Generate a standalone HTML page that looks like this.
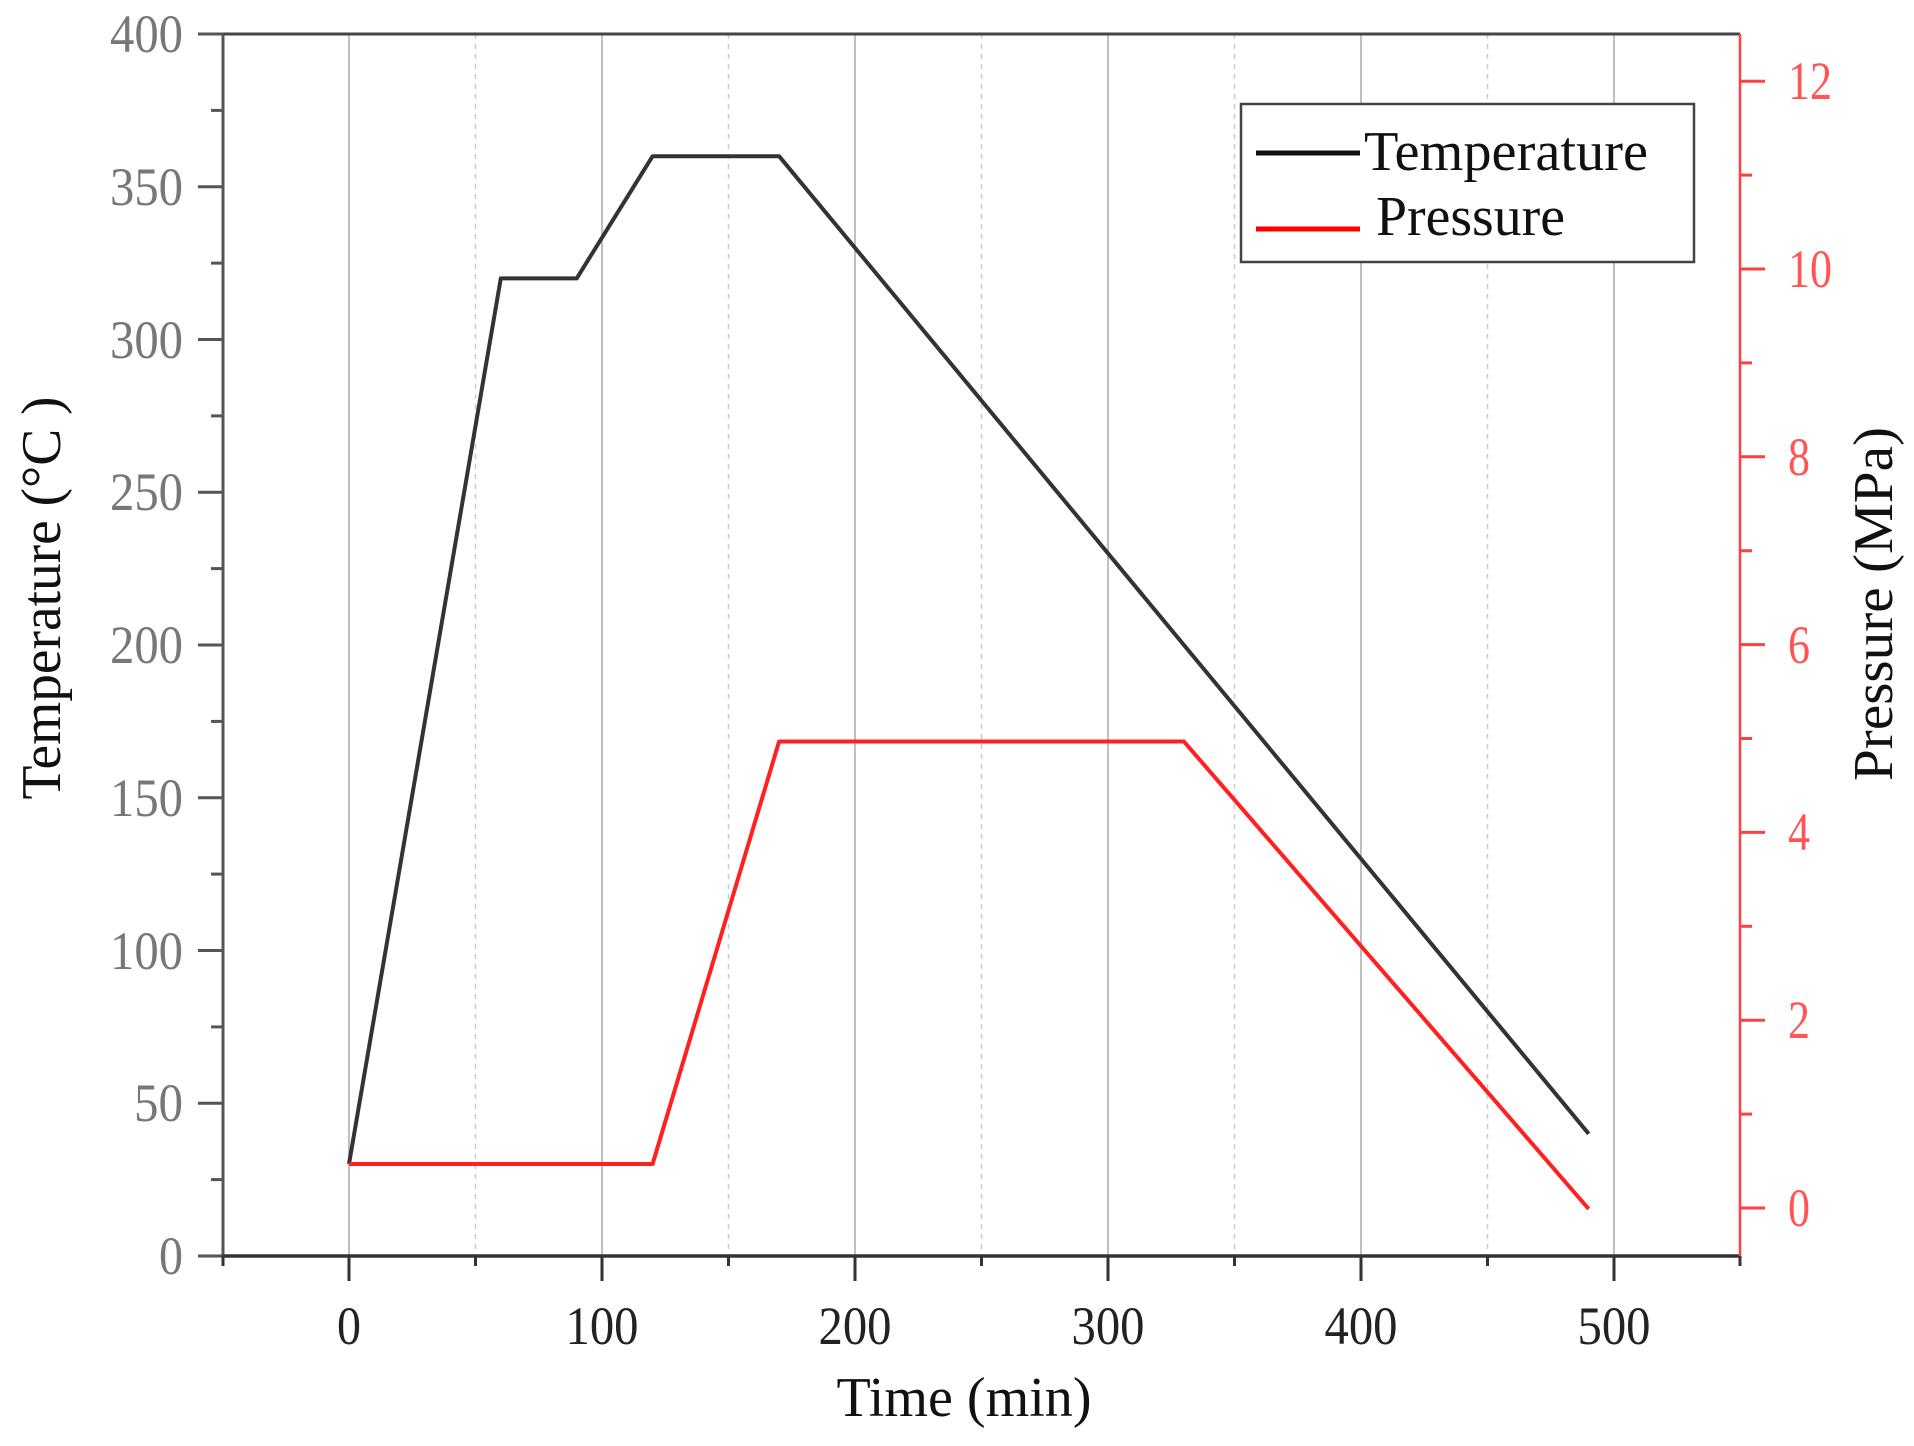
<!DOCTYPE html>
<html><head><meta charset="utf-8"><style>html,body{margin:0;padding:0;background:#fff}svg{display:block}</style></head>
<body>
<svg width="1914" height="1446" viewBox="0 0 1914 1446" xmlns="http://www.w3.org/2000/svg" font-family="Liberation Serif, serif">
<g stroke="#aaa" stroke-width="1.5">
<line x1="349" y1="34" x2="349" y2="1256"/><line x1="602" y1="34" x2="602" y2="1256"/><line x1="855" y1="34" x2="855" y2="1256"/><line x1="1108" y1="34" x2="1108" y2="1256"/><line x1="1361" y1="34" x2="1361" y2="1256"/><line x1="1614" y1="34" x2="1614" y2="1256"/>
</g>
<g stroke="#ccc" stroke-width="1.5" stroke-dasharray="5,5">
<line x1="475.5" y1="34" x2="475.5" y2="1256"/><line x1="728.5" y1="34" x2="728.5" y2="1256"/><line x1="981.5" y1="34" x2="981.5" y2="1256"/><line x1="1234.5" y1="34" x2="1234.5" y2="1256"/><line x1="1487.5" y1="34" x2="1487.5" y2="1256"/>
</g>
<line x1="223" y1="34" x2="1740" y2="34" stroke="#444" stroke-width="3"/>
<line x1="223" y1="34" x2="223" y2="1256" stroke="#555" stroke-width="3"/>
<line x1="221" y1="1256" x2="1740" y2="1256" stroke="#333" stroke-width="3.5"/>
<line x1="1740" y1="34" x2="1740" y2="1256" stroke="#ff4040" stroke-width="2.5"/>
<g stroke="#555" stroke-width="3">
<line x1="198" y1="1256" x2="223" y2="1256"/><line x1="198" y1="1103.25" x2="223" y2="1103.25"/><line x1="198" y1="950.5" x2="223" y2="950.5"/><line x1="198" y1="797.75" x2="223" y2="797.75"/><line x1="198" y1="645" x2="223" y2="645"/><line x1="198" y1="492.25" x2="223" y2="492.25"/><line x1="198" y1="339.5" x2="223" y2="339.5"/><line x1="198" y1="186.75" x2="223" y2="186.75"/><line x1="198" y1="34" x2="223" y2="34"/>
<line x1="211" y1="1179.6" x2="223" y2="1179.6"/><line x1="211" y1="1026.9" x2="223" y2="1026.9"/><line x1="211" y1="874.1" x2="223" y2="874.1"/><line x1="211" y1="721.4" x2="223" y2="721.4"/><line x1="211" y1="568.6" x2="223" y2="568.6"/><line x1="211" y1="415.9" x2="223" y2="415.9"/><line x1="211" y1="263.1" x2="223" y2="263.1"/><line x1="211" y1="110.4" x2="223" y2="110.4"/>
</g>
<g font-size="54" fill="#777" text-anchor="end" lengthAdjust="spacingAndGlyphs">
<text x="183" y="1274" textLength="24" lengthAdjust="spacingAndGlyphs">0</text>
<text x="183" y="1121" textLength="49" lengthAdjust="spacingAndGlyphs">50</text>
<text x="183" y="969" textLength="73" lengthAdjust="spacingAndGlyphs">100</text>
<text x="183" y="816" textLength="73" lengthAdjust="spacingAndGlyphs">150</text>
<text x="183" y="663" textLength="73" lengthAdjust="spacingAndGlyphs">200</text>
<text x="183" y="510" textLength="73" lengthAdjust="spacingAndGlyphs">250</text>
<text x="183" y="358" textLength="73" lengthAdjust="spacingAndGlyphs">300</text>
<text x="183" y="205" textLength="73" lengthAdjust="spacingAndGlyphs">350</text>
<text x="183" y="52" textLength="73" lengthAdjust="spacingAndGlyphs">400</text>
</g>
<g stroke="#333" stroke-width="3">
<line x1="349" y1="1256" x2="349" y2="1281"/><line x1="602" y1="1256" x2="602" y2="1281"/><line x1="855" y1="1256" x2="855" y2="1281"/><line x1="1108" y1="1256" x2="1108" y2="1281"/><line x1="1361" y1="1256" x2="1361" y2="1281"/><line x1="1614" y1="1256" x2="1614" y2="1281"/>
<line x1="223" y1="1256" x2="223" y2="1266"/><line x1="475.5" y1="1256" x2="475.5" y2="1266"/><line x1="728.5" y1="1256" x2="728.5" y2="1266"/><line x1="981.5" y1="1256" x2="981.5" y2="1266"/><line x1="1234.5" y1="1256" x2="1234.5" y2="1266"/><line x1="1487.5" y1="1256" x2="1487.5" y2="1266"/><line x1="1740" y1="1256" x2="1740" y2="1266"/>
</g>
<g font-size="54" fill="#222" text-anchor="middle">
<text x="349" y="1344" textLength="24" lengthAdjust="spacingAndGlyphs">0</text>
<text x="602" y="1344" textLength="73" lengthAdjust="spacingAndGlyphs">100</text>
<text x="855" y="1344" textLength="73" lengthAdjust="spacingAndGlyphs">200</text>
<text x="1108" y="1344" textLength="73" lengthAdjust="spacingAndGlyphs">300</text>
<text x="1361" y="1344" textLength="73" lengthAdjust="spacingAndGlyphs">400</text>
<text x="1614" y="1344" textLength="73" lengthAdjust="spacingAndGlyphs">500</text>
</g>
<text x="964" y="1416" font-size="56" fill="#111" text-anchor="middle" textLength="255" lengthAdjust="spacingAndGlyphs">Time (min)</text>
<text transform="translate(60,598) rotate(-90)" font-size="56" fill="#111" text-anchor="middle" textLength="403" lengthAdjust="spacingAndGlyphs">Temperature (°C )</text>
<text transform="translate(1892,604) rotate(-90)" font-size="56" fill="#111" text-anchor="middle" textLength="354" lengthAdjust="spacingAndGlyphs">Pressure (MPa)</text>
<g stroke="#ff4040" stroke-width="3">
<line x1="1740" y1="1208" x2="1765" y2="1208"/><line x1="1740" y1="1020.2" x2="1765" y2="1020.2"/><line x1="1740" y1="832.4" x2="1765" y2="832.4"/><line x1="1740" y1="644.6" x2="1765" y2="644.6"/><line x1="1740" y1="456.8" x2="1765" y2="456.8"/><line x1="1740" y1="269" x2="1765" y2="269"/><line x1="1740" y1="81.2" x2="1765" y2="81.2"/>
<line x1="1740" y1="1114.1" x2="1752" y2="1114.1"/><line x1="1740" y1="926.3" x2="1752" y2="926.3"/><line x1="1740" y1="738.5" x2="1752" y2="738.5"/><line x1="1740" y1="550.7" x2="1752" y2="550.7"/><line x1="1740" y1="362.9" x2="1752" y2="362.9"/><line x1="1740" y1="175.1" x2="1752" y2="175.1"/>
</g>
<g font-size="54" fill="#ff5555">
<text x="1788" y="1226" textLength="22" lengthAdjust="spacingAndGlyphs">0</text>
<text x="1788" y="1038" textLength="22" lengthAdjust="spacingAndGlyphs">2</text>
<text x="1788" y="850" textLength="22" lengthAdjust="spacingAndGlyphs">4</text>
<text x="1788" y="663" textLength="22" lengthAdjust="spacingAndGlyphs">6</text>
<text x="1788" y="475" textLength="22" lengthAdjust="spacingAndGlyphs">8</text>
<text x="1788" y="287" textLength="44" lengthAdjust="spacingAndGlyphs">10</text>
<text x="1788" y="99" textLength="44" lengthAdjust="spacingAndGlyphs">12</text>
</g>
<polyline points="349,1164 500.8,278.4 576.7,278.4 652.6,156.2 779.1,156.2 1588.7,1133.8" fill="none" stroke="#333" stroke-width="4" stroke-linejoin="round"/>
<polyline points="349,1164 652.6,1164 779.1,741.5 1183.9,741.5 1588.7,1209" fill="none" stroke="#ff2020" stroke-width="4" stroke-linejoin="round"/>
<rect x="1241" y="104" width="453" height="158" fill="#fff" stroke="#444" stroke-width="2.5"/>
<line x1="1256" y1="153" x2="1360" y2="153" stroke="#111" stroke-width="5"/>
<line x1="1256" y1="229" x2="1360" y2="229" stroke="#ff0000" stroke-width="5"/>
<text x="1364" y="170" font-size="56" fill="#111" textLength="284" lengthAdjust="spacingAndGlyphs">Temperature</text>
<text x="1376" y="235" font-size="56" fill="#111" textLength="189" lengthAdjust="spacingAndGlyphs">Pressure</text>
</svg>
</body></html>
